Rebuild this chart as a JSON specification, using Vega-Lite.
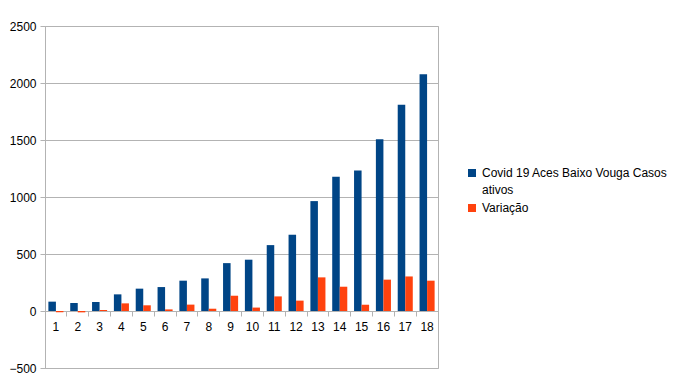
{
  "$schema": "https://vega.github.io/schema/vega-lite/v6.json",
  "width": 393,
  "height": 342,
  "autosize": "none",
  "padding": {"left": 45, "top": 26, "right": 239, "bottom": 12},
  "background": "white",
  "config": {
    "font": "Liberation Sans",
    "view": {"stroke": "#b3b3b3", "strokeWidth": 1},
    "axis": {"labelFont": "Liberation Sans", "labelFontSize": 12, "labelColor": "#000000", "domainColor": "#b3b3b3", "tickColor": "#b3b3b3", "gridColor": "#b3b3b3", "title": null}
  },
  "data": {"values": [
    {"dia": 1, "serie": "Covid 19 Aces Baixo Vouga Casos ativos", "valor": 82},
    {"dia": 2, "serie": "Covid 19 Aces Baixo Vouga Casos ativos", "valor": 70},
    {"dia": 3, "serie": "Covid 19 Aces Baixo Vouga Casos ativos", "valor": 79},
    {"dia": 4, "serie": "Covid 19 Aces Baixo Vouga Casos ativos", "valor": 146},
    {"dia": 5, "serie": "Covid 19 Aces Baixo Vouga Casos ativos", "valor": 196},
    {"dia": 6, "serie": "Covid 19 Aces Baixo Vouga Casos ativos", "valor": 210},
    {"dia": 7, "serie": "Covid 19 Aces Baixo Vouga Casos ativos", "valor": 266},
    {"dia": 8, "serie": "Covid 19 Aces Baixo Vouga Casos ativos", "valor": 286},
    {"dia": 9, "serie": "Covid 19 Aces Baixo Vouga Casos ativos", "valor": 420},
    {"dia": 10, "serie": "Covid 19 Aces Baixo Vouga Casos ativos", "valor": 450},
    {"dia": 11, "serie": "Covid 19 Aces Baixo Vouga Casos ativos", "valor": 578},
    {"dia": 12, "serie": "Covid 19 Aces Baixo Vouga Casos ativos", "valor": 669},
    {"dia": 13, "serie": "Covid 19 Aces Baixo Vouga Casos ativos", "valor": 964},
    {"dia": 14, "serie": "Covid 19 Aces Baixo Vouga Casos ativos", "valor": 1177},
    {"dia": 15, "serie": "Covid 19 Aces Baixo Vouga Casos ativos", "valor": 1232},
    {"dia": 16, "serie": "Covid 19 Aces Baixo Vouga Casos ativos", "valor": 1507},
    {"dia": 17, "serie": "Covid 19 Aces Baixo Vouga Casos ativos", "valor": 1810},
    {"dia": 18, "serie": "Covid 19 Aces Baixo Vouga Casos ativos", "valor": 2076},
    {"dia": 1, "serie": " Variação", "valor": -11},
    {"dia": 2, "serie": " Variação", "valor": -12},
    {"dia": 3, "serie": " Variação", "valor": 9},
    {"dia": 4, "serie": " Variação", "valor": 67},
    {"dia": 5, "serie": " Variação", "valor": 50},
    {"dia": 6, "serie": " Variação", "valor": 14},
    {"dia": 7, "serie": " Variação", "valor": 56},
    {"dia": 8, "serie": " Variação", "valor": 20},
    {"dia": 9, "serie": " Variação", "valor": 134},
    {"dia": 10, "serie": " Variação", "valor": 30},
    {"dia": 11, "serie": " Variação", "valor": 128},
    {"dia": 12, "serie": " Variação", "valor": 91},
    {"dia": 13, "serie": " Variação", "valor": 295},
    {"dia": 14, "serie": " Variação", "valor": 213},
    {"dia": 15, "serie": " Variação", "valor": 55},
    {"dia": 16, "serie": " Variação", "valor": 275},
    {"dia": 17, "serie": " Variação", "valor": 303},
    {"dia": 18, "serie": " Variação", "valor": 266}
  ]},
  "mark": {"type": "bar"},
  "encoding": {
    "x": {
      "field": "dia", "type": "ordinal",
      "scale": {"paddingInner": 0, "paddingOuter": 0},
      "axis": {"labelAngle": 0, "offset": -57, "bandPosition": 0, "tickSize": 5, "labelPadding": 5, "domain": true, "grid": false}
    },
    "xOffset": {
      "field": "serie", "type": "nominal",
      "sort": ["Covid 19 Aces Baixo Vouga Casos ativos", " Variação"],
      "scale": {"paddingInner": 0, "paddingOuter": 0.45}
    },
    "y": {
      "field": "valor", "type": "quantitative",
      "scale": {"domain": [-500, 2500], "nice": false, "zero": false},
      "axis": {"values": [-500, 0, 500, 1000, 1500, 2000, 2500], "format": "d", "tickSize": 5, "labelPadding": 4, "domain": true, "grid": true}
    },
    "color": {
      "field": "serie", "type": "nominal",
      "scale": {"domain": ["Covid 19 Aces Baixo Vouga Casos ativos", " Variação"], "range": ["#004586", "#ff420e"]},
      "legend": {
        "title": null,
        "orient": "none",
        "legendX": 421,
        "legendY": 141,
        "symbolType": "square",
        "symbolSize": 64,
        "symbolStrokeWidth": 0,
        "labelFontSize": 12,
        "labelFont": "Liberation Sans",
        "labelColor": "#000000",
        "labelLimit": 400,
        "rowPadding": 6,
        "labelOffset": 4,
        "labelExpr": "datum.label == 'Covid 19 Aces Baixo Vouga Casos ativos' ? ['Covid 19 Aces Baixo Vouga Casos', 'ativos'] : ['\u00a0Variação']",
        "encode": {"labels": {"update": {"lineHeight": {"value": 17}}}}
      }
    }
  }
}
